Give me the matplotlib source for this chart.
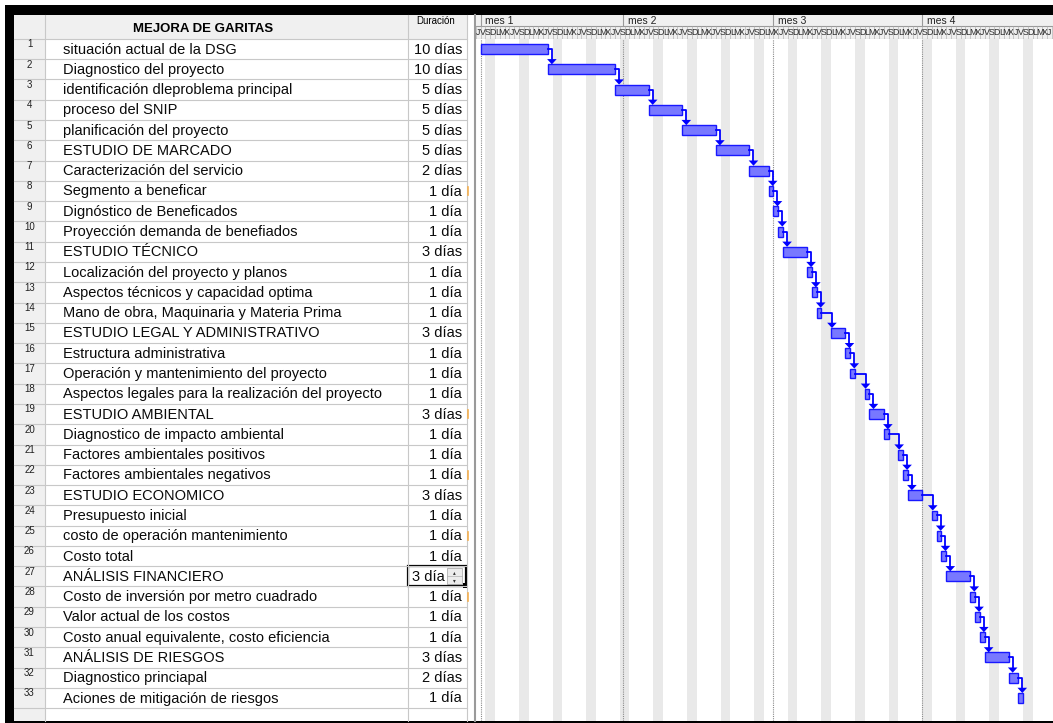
import matplotlib
matplotlib.use('Agg')
from matplotlib import pyplot as plt
from matplotlib.patches import Rectangle, Polygon

plt.rcParams['font.family'] = ['Liberation Sans', 'DejaVu Sans']

# task table
project_title = 'MEJORA DE GARITAS'
task_names = [
    'situación actual de la DSG',
    'Diagnostico del proyecto',
    'identificación dleproblema principal',
    'proceso del SNIP',
    'planificación del proyecto',
    'ESTUDIO DE MARCADO',
    'Caracterización del servicio',
    'Segmento a beneficar',
    'Dignóstico de Beneficados',
    'Proyección demanda de benefiados',
    'ESTUDIO TÉCNICO',
    'Localización del proyecto y planos',
    'Aspectos técnicos y capacidad optima',
    'Mano de obra, Maquinaria y Materia Prima',
    'ESTUDIO LEGAL Y ADMINISTRATIVO',
    'Estructura administrativa',
    'Operación y mantenimiento del proyecto',
    'Aspectos legales para la realización del proyecto',
    'ESTUDIO AMBIENTAL',
    'Diagnostico de impacto ambiental',
    'Factores ambientales positivos',
    'Factores ambientales negativos',
    'ESTUDIO ECONOMICO',
    'Presupuesto inicial',
    'costo de operación mantenimiento',
    'Costo total',
    'ANÁLISIS FINANCIERO',
    'Costo de inversión por metro cuadrado',
    'Valor actual de los costos',
    'Costo anual equivalente, costo eficiencia',
    'ANÁLISIS DE RIESGOS',
    'Diagnostico princiapal',
    'Aciones de mitigación de riesgos',
]
durations = [10, 10, 5, 5, 5, 5, 2, 1, 1, 1, 3, 1, 1, 1, 3, 1, 1, 1,
             3, 1, 1, 1, 3, 1, 1, 1, 3, 1, 1, 1, 3, 2, 1]
edited_row = 27
edited_text = '3 día'
marked_rows = [8, 19, 22, 25, 28]

# timescale
month_labels = ['mes 1', 'mes 2', 'mes 3', 'mes 4']
month_starts = [0, 29.7, 61.0, 91.9]
day_letters = 'LMXJVSD'
first_weekday = 4  # project starts on a Friday


def workdays(n_days):
    return [c for c in range(n_days) if (c + first_weekday) % 7 < 5]


def schedule(durs):
    cal = workdays(400)
    starts, ends = [], []
    wd = 0
    for d in durs:
        starts.append(cal[wd])
        ends.append(cal[wd + d - 1] + 1)
        wd += d
    return starts, ends


W, H = 1053, 723
ROW_H = 20.28
ROW1_TOP = 38.9
BOTTOM = 720.5
GANTT_X0 = 476
PX_DAY = 4.8
DAY0_X = 480.6
n = len(task_names)


def box(x0, y0, x1, y1):
    return [x0 / W, 1 - y1 / H, (x1 - x0) / W, (y1 - y0) / H]


def row_top(i):
    return ROW1_TOP + (i - 1) * ROW_H


fig = plt.figure(figsize=(W / 100, H / 100), dpi=100)

# ---- table drawn in pixel space ----
bg = fig.add_axes([0, 0, 1, 1])
bg.set_xlim(0, W)
bg.set_ylim(H, 0)
bg.axis('off')

grid = '#c8c8c8'
bg.add_patch(Rectangle((13.5, 15), 453, ROW1_TOP - 15, color='#f0f0f0', lw=0))
bg.add_patch(Rectangle((13.5, ROW1_TOP), 31.5, BOTTOM - ROW1_TOP, color='#f0f0f0', lw=0))
for i in range(1, n + 2):
    bg.plot([13.5, 466.7], [row_top(i)] * 2, color=grid, lw=0.8)
for x in [45, 408, 466.7]:
    bg.plot([x, x], [15, BOTTOM], color=grid, lw=0.8)
bg.plot([474.8, 474.8], [15, BOTTOM], color='#9a9a9a', lw=1.5)

bg.text(203, 29, project_title, ha='center', va='center', fontsize=9.5, fontweight='bold')
bg.text(436, 21, 'Duración', ha='center', va='center', fontsize=7)

for i, (name, d) in enumerate(zip(task_names, durations), start=1):
    yc = row_top(i) + ROW_H / 2
    bg.text(29.5, row_top(i) + 5.5, str(i), ha='center', va='center', fontsize=7, color='#202020')
    bg.text(63, yc + 0.5, name, ha='left', va='center', fontsize=10.5, color='#0a0a0a')
    if i == edited_row:
        bg.text(411.5, yc + 0.5, edited_text, ha='left', va='center', fontsize=10.5, color='#0a0a0a')
    else:
        label = f'{d} día' if d == 1 else f'{d} días'
        bg.text(462, yc + 0.5, label, ha='right', va='center', fontsize=10.5, color='#0a0a0a')
    if i in marked_rows:
        bg.plot([468.3, 468.3], [yc - 4, yc + 4], color='#f5b050', lw=1.2)

# cell being edited
t27 = row_top(edited_row)
bg.add_patch(Rectangle((446.7, t27 + 2), 15, ROW_H - 4, facecolor='#ececec', edgecolor='#b0b0b0', lw=0.6))
bg.plot([446.7, 461.7], [t27 + ROW_H / 2] * 2, color='#b0b0b0', lw=0.5)
bg.text(454.2, t27 + 6, '▴', ha='center', va='center', fontsize=4, color='#333333')
bg.text(454.2, t27 + 14.5, '▾', ha='center', va='center', fontsize=4, color='#333333')
bg.add_patch(Rectangle((408, t27), 57.5, ROW_H, fill=False, edgecolor='black', lw=1.6))
bg.add_patch(Rectangle((462.7, t27 + ROW_H - 3), 4.6, 4.6, color='black', lw=0))

# window frame
bg.add_patch(Rectangle((5, 5), W - 5, 10, color='black', lw=0))
bg.add_patch(Rectangle((5, 5), 8.5, H - 5, color='black', lw=0))
bg.add_patch(Rectangle((5, BOTTOM), W - 5, H - BOTTOM, color='black', lw=0))

# ---- gantt ----
starts, ends = schedule(durations)
x0d = (GANTT_X0 - DAY0_X) / PX_DAY
x1d = (W - DAY0_X) / PX_DAY
rows = list(range(1, n + 1))

ax = fig.add_axes(box(GANTT_X0, ROW1_TOP, W, BOTTOM))
ax.set_xlim(x0d, x1d)
ax.set_ylim(0.5 + (BOTTOM - ROW1_TOP) / ROW_H, 0.5)
ax.axis('off')

for c in range(-2, int(x1d) + 2):
    if (c + first_weekday) % 7 == 5:
        ax.axvspan(c, c + 2, color='#e9e9e9', lw=0, zorder=0)
for m in month_starts:
    ax.axvline(m, color='#8a8a8a', ls=(0, (1, 1)), lw=0.8, zorder=1)

widths = [e - s for s, e in zip(starts, ends)]
ax.barh(rows, widths, left=starts, height=0.49, color='#7878ff',
        edgecolor='#1818ff', lw=1.0, zorder=3)

blue = '#0000ff'
for i in range(n - 1):
    y = rows[i]
    xv = max(ends[i] + 0.85, starts[i + 1] + 0.2)
    ytop = rows[i + 1] - 0.245
    ax.plot([ends[i], xv, xv], [y, y, ytop - 0.2], color=blue, lw=1.3, zorder=4)
    ax.add_patch(Polygon([(xv - 1.0, ytop - 0.26), (xv + 1.0, ytop - 0.26), (xv, ytop)],
                         closed=True, color=blue, lw=0, zorder=4))

# ---- timescale header ----
hx = fig.add_axes(box(GANTT_X0, 15, W, ROW1_TOP))
hx.set_xlim(x0d, x1d)
hx.set_ylim(1, 0)
hx.axis('off')
hx.add_patch(Rectangle((x0d, 0), x1d - x0d, 1, color='#f0f0f0', lw=0))
split = 0.44
hx.axhline(split, color='#9a9a9a', lw=0.8)
hx.axhline(0.985, color='#9a9a9a', lw=0.8)
for m, lab in zip(month_starts, month_labels):
    hx.plot([m, m], [0, split], color='#9a9a9a', lw=0.8)
    hx.text(m + 1.0, split / 2 + 0.02, lab, ha='left', va='center', fontsize=7.5, color='#222222')
for c in range(int(x0d) - 1, int(x1d) + 1):
    hx.plot([c, c], [split, 1], color='#a8a8a8', lw=0.4)
    if c + 1 <= x1d + 0.1:
        hx.text(c + 0.5, 0.73, day_letters[(c + first_weekday) % 7], ha='center', va='center',
                fontsize=6.3, color='#2a2a2a')

fig.savefig('out.png', dpi=100)
